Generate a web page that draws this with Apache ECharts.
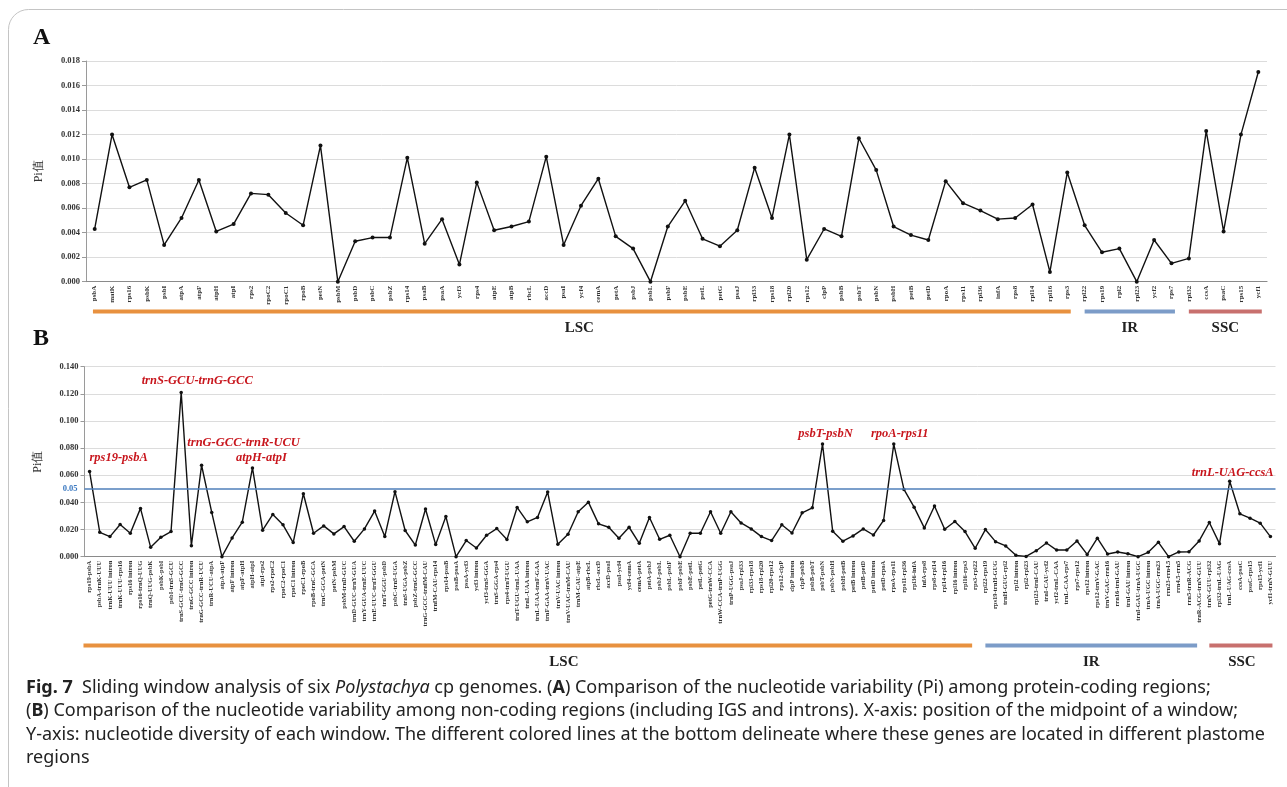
<!DOCTYPE html>
<html><head><meta charset="utf-8">
<script src="https://cdn.jsdelivr.net/npm/echarts@6/dist/echarts.min.js"></script>
<style>html,body{margin:0;padding:0;background:#fff}#c{width:1287px;height:787px}</style>
</head><body><div id="c"></div>
<script>
// ---------- Panel A: protein-coding regions ----------
const genesA = ['psbA','matK','rps16','psbK','psbI','atpA','atpF','atpH','atpI','rps2','rpoC2','rpoC1','rpoB','petN','psbM','psbD','psbC','psbZ','rps14','psaB','psaA','ycf3','rps4','atpE','atpB','rbcL','accD','psaI','ycf4','cemA','petA','psbJ','psbL','psbF','psbE','petL','petG','psaJ','rpl33','rps18','rpl20','rps12','clpP','psbB','psbT','psbN','psbH','petB','petD','rpoA','rps11','rpl36','infA','rps8','rpl14','rpl16','rps3','rpl22','rps19','rpl2','rpl23','ycf2','rps7','rpl32','ccsA','psaC','rps15','ycf1'];
const piA = [0.0043,0.0120,0.0077,0.0083,0.0030,0.0052,0.0083,0.0041,0.0047,0.0072,
             0.0071,0.0056,0.0046,0.0111,0.0000,0.0033,0.0036,0.0036,0.0101,0.0031,
             0.0051,0.0014,0.0081,0.0042,0.0045,0.0049,0.0102,0.0030,0.0062,0.0084,
             0.0037,0.0027,0.0000,0.0045,0.0066,0.0035,0.0029,0.0042,0.0093,0.0052,
             0.0120,0.0018,0.0043,0.0037,0.0117,0.0091,0.0045,0.0038,0.0034,0.0082,
             0.0064,0.0058,0.0051,0.0052,0.0063,0.0008,0.0089,0.0046,0.0024,0.0027,
             0.0000,0.0034,0.0015,0.0019,0.0123,0.0041,0.0120,0.0171];
// region name, first category, last category, label category (fractional category positions)
const regionsA = [['LSC',-0.1,56.2,27.9],['IR',57,62.2,59.6],['SSC',63,67.2,65.1]];
const yTicksA = [0, 0.018, 0.002];

// ---------- Panel B: non-coding regions ----------
const windowsB = ['rps19-psbA','psbA-trnK-UUU','trnK-UUU intron','trnK-UUU-rps16','rps16 intron','rps16-trnQ-UUG','trnQ-UUG-psbK','psbK-psbI','psbI-trnS-GCU','trnS-GCU-trnG-GCC',
 'trnG-GCC intron','trnG-GCC-trnR-UCU','trnR-UCU-atpA','atpA-atpF','atpF intron','atpF-atpH','atpH-atpI','atpI-rps2','rps2-rpoC2','rpoC2-rpoC1',
 'rpoC1 intron','rpoC1-rpoB','rpoB-trnC-GCA','trnC-GCA-petN','petN-psbM','psbM-trnD-GUC','trnD-GUC-trnY-GUA','trnY-GUA-trnE-UUC','trnE-UUC-trnT-GGU','trnT-GGU-psbD',
 'psbC-trnS-UGA','trnS-UGA-psbZ','psbZ-trnG-GCC','trnG-GCC-trnfM-CAU','trnfM-CAU-rps14','rps14-psaB','psaB-psaA','psaA-ycf3','ycf3 intron','ycf3-trnS-GGA',
 'trnS-GGA-rps4','rps4-trnT-UGU','trnT-UGU-trnL-UAA','trnL-UAA intron','trnL-UAA-trnF-GAA','trnF-GAA-trnV-UAC','trnV-UAC intron','trnV-UAC-trnM-CAU','trnM-CAU-atpE','atpB-rbcL',
 'rbcL-accD','accD-psaI','psaI-ycf4','ycf4-cemA','cemA-petA','petA-psbJ','psbJ-psbL','psbL-psbF','psbF-psbE','psbE-petL',
 'petL-petG','petG-trnW-CCA','trnW-CCA-trnP-UGG','trnP-UGG-psaJ','psaJ-rpl33','rpl33-rps18','rps18-rpl20','rpl20-rps12','rps12-clpP','clpP intron',
 'clpP-psbB','psbB-psbT','psbT-psbN','psbN-psbH','psbH-petB','petB intron','petB-petD','petD intron','petD-rpoA','rpoA-rps11',
 'rps11-rpl36','rpl36-infA','infA-rps8','rps8-rpl14','rpl14-rpl16','rpl16 intron','rpl16-rps3','rps3-rpl22','rpl22-rps19','rps19-trnH-GUG',
 'trnH-GUG-rpl2','rpl2 intron','rpl2-rpl23','rpl23-trnI-CAU','trnI-CAU-ycf2','ycf2-trnL-CAA','trnL-CAA-rps7','rps7-rps12','rps12 intron','rps12-trnV-GAC',
 'trnV-GAC-rrn16','rrn16-trnI-GAU','trnI-GAU intron','trnI-GAU-trnA-UGC','trnA-UGC intron','trnA-UGC-rrn23','rrn23-rrn4.5','rrn4.5-rrn5','rrn5-trnR-ACG','trnR-ACG-trnN-GUU',
 'trnN-GUU-rpl32','rpl32-trnL-UAG','trnL-UAG-ccsA','ccsA-psaC','psaC-rps15','rps15-ycf1','ycf1-trnN-GUU'];
const piB = [0.0627,0.0180,0.0148,0.0237,0.0173,0.0356,0.0069,0.0143,0.0185,0.1210,
             0.0081,0.0674,0.0326,0.0000,0.0138,0.0254,0.0654,0.0195,0.0311,0.0235,
             0.0104,0.0464,0.0173,0.0227,0.0168,0.0222,0.0114,0.0205,0.0336,0.0148,
             0.0479,0.0193,0.0086,0.0351,0.0089,0.0296,0.0000,0.0119,0.0064,0.0158,
             0.0207,0.0126,0.0363,0.0257,0.0289,0.0477,0.0091,0.0165,0.0331,0.0402,
             0.0242,0.0217,0.0136,0.0217,0.0099,0.0289,0.0128,0.0158,0.0000,0.0173,
             0.0173,0.0331,0.0173,0.0331,0.0249,0.0205,0.0148,0.0119,0.0235,0.0175,
             0.0323,0.0360,0.0830,0.0188,0.0114,0.0153,0.0205,0.0160,0.0267,0.0830,
             0.0496,0.0365,0.0212,0.0373,0.0202,0.0259,0.0185,0.0062,0.0200,0.0111,
             0.0079,0.0010,0.0002,0.0044,0.0101,0.0049,0.0049,0.0116,0.0017,0.0136,
             0.0020,0.0035,0.0022,0.0000,0.0032,0.0106,0.0000,0.0035,0.0037,0.0116,
             0.0252,0.0096,0.0556,0.0316,0.0284,0.0247,0.0148];
const regionsB = [['LSC',-0.6,86.7,46.6],['IR',88,108.8,98.4],['SSC',110,116.2,113.2]];
const annotationsB = [[0,'rps19-psbA'],[9,'trnS-GCU-trnG-GCC'],[11,'trnG-GCC-trnR-UCU'],[16,'atpH-atpI'],[72,'psbT-psbN'],[79,'rpoA-rps11'],[112,'trnL-UAG-ccsA']];
const thresholdB = 0.05;
const yTicksB = [0, 0.14, 0.02];

// ---------- styling ----------
const regionColors = {LSC:'#E8913F', IR:'#7C9CC8', SSC:'#C8706E'};
const annotShift = {0:[29,-1], 9:[16,2], 11:[42,-9], 16:[9,3], 72:[3,3], 79:[6,3], 112:[3,5]};
const SERIF = '"Liberation Serif","Times New Roman",serif';
const SANS = '"Noto Sans",sans-serif';

const chart = echarts.init(document.getElementById('c'), null, {renderer:'canvas'});

function yAxisCfg(idx, t){
  return {
    type:'value', gridIndex:idx, min:t[0], max:t[1], interval:t[2],
    name:'Pi值', nameLocation:'middle', nameGap:41, nameRotate:90,
    nameTextStyle:{fontFamily:SERIF, fontSize:12, color:'#333'},
    axisLine:{show:true, lineStyle:{color:'#9a9a9a', width:1}},
    axisTick:{show:true, length:4, lineStyle:{color:'#9a9a9a'}},
    axisLabel:{formatter:v=>v.toFixed(3), fontFamily:SERIF, fontWeight:'bold', fontSize:8.5, color:'#333', margin:6},
    splitLine:{show:true, lineStyle:{color:'#dcdcdc', width:1}}
  };
}
function xAxisCfg(idx, cats, fs){
  return {
    type:'category', gridIndex:idx, data:cats, boundaryGap:true,
    axisLine:{show:true, lineStyle:{color:'#8a8a8a', width:1.2}},
    axisTick:{show:false},
    axisLabel:{interval:0, rotate:90, fontFamily:SERIF, fontWeight:'bold', fontSize:fs, color:'#333', margin:4}
  };
}

const annotMap = {};
annotationsB.forEach(a => annotMap[a[0]] = a[1]);
const dataB = piB.map((v,i) => annotMap[i] ? {
  value:v,
  label:{show:true, position:'top', formatter:annotMap[i],
         color:'#C8161D', fontFamily:SERIF, fontStyle:'italic', fontWeight:'bold', fontSize:12.5}
} : v);

const option = {
  animation:false,
  backgroundColor:'#fff',
  grid:[
    {left:86, top:61, width:1181, height:220.7},
    {left:84.5, top:366.7, width:1191, height:190}
  ],
  xAxis:[xAxisCfg(0, genesA, 7), xAxisCfg(1, windowsB, 6.5)],
  yAxis:[yAxisCfg(0, yTicksA), yAxisCfg(1, yTicksB)],
  series:[
    {type:'line', xAxisIndex:0, yAxisIndex:0, data:piA, symbol:'circle', symbolSize:4,
     itemStyle:{color:'#111'}, lineStyle:{color:'#111', width:1.4}, silent:true},
    {type:'line', xAxisIndex:1, yAxisIndex:1, data:dataB, symbol:'circle', symbolSize:3.5,
     itemStyle:{color:'#111'}, lineStyle:{color:'#111', width:1.4}, silent:true,
     labelLayout:function(p){
       const s = annotShift[p.dataIndex] || [0,0];
       return {dx:s[0], dy:s[1], hideOverlap:false};
     },
     markLine:{silent:true, symbol:'none', animation:false,
       lineStyle:{color:'#4F7FBA', width:1.5, type:'solid'},
       label:{show:true, position:'start', formatter:String(thresholdB), color:'#3A78C0', fontFamily:SERIF, fontWeight:'bold', fontSize:8.5, distance:7},
       data:[{yAxis:thresholdB}]}
    }
  ]
};
chart.setOption(option);

function catX(axisIdx, f){
  const p0 = chart.convertToPixel({xAxisIndex:axisIdx}, 0);
  const p1 = chart.convertToPixel({xAxisIndex:axisIdx}, 1);
  return p0 + f*(p1-p0);
}
const g = [];
g.push({type:'rect', shape:{x:8.5, y:9.5, width:1320, height:820, r:[20,0,0,0]}, style:{fill:'none', stroke:'#c4c4c4', lineWidth:1}, z:-1});
g.push({type:'text', left:33, top:26, style:{text:'A', font:'bold 24px '+SERIF, fill:'#111'}});
g.push({type:'text', left:33, top:327, style:{text:'B', font:'bold 24px '+SERIF, fill:'#111'}});
function addRegions(axisIdx, regs, yLine, yText){
  regs.forEach(r => {
    const x1 = catX(axisIdx, r[1]), x2 = catX(axisIdx, r[2]), xl = catX(axisIdx, r[3]);
    g.push({type:'line', shape:{x1:x1, y1:yLine, x2:x2, y2:yLine}, style:{stroke:regionColors[r[0]], lineWidth:4}});
    g.push({type:'text', x:xl, y:yText, style:{text:r[0], font:'bold 15px '+SERIF, fill:'#222', textAlign:'center', textVerticalAlign:'middle'}});
  });
}
addRegions(0, regionsA, 311.5, 328);
addRegions(1, regionsB, 645.5, 662);

const CAP = 18;
const capRich = {
  b:{fontFamily:SANS, fontSize:CAP, fontWeight:'bold', fill:'#222'},
  i:{fontFamily:SANS, fontSize:CAP, fontStyle:'italic', fill:'#222'},
  n:{fontFamily:SANS, fontSize:CAP, fill:'#222'}
};
const capLines = [
  '{b|Fig. 7}{n|  Sliding window analysis of six }{i|Polystachya}{n| cp genomes. (}{b|A}{n|) Comparison of the nucleotide variability (Pi) among protein-coding regions;}',
  '{n|(}{b|B}{n|) Comparison of the nucleotide variability among non-coding regions (including IGS and introns). X-axis: position of the midpoint of a window;}',
  '{n|Y-axis: nucleotide diversity of each window. The different colored lines at the bottom delineate where these genes are located in different plastome}',
  '{n|regions}'
];
capLines.forEach((t,k) => {
  g.push({type:'text', x:26, y:688 + k*23.3, style:{text:t, rich:capRich, textVerticalAlign:'middle', fill:'#222', font:CAP+'px '+SANS}});
});
chart.setOption({graphic:g});
</script></body></html>
